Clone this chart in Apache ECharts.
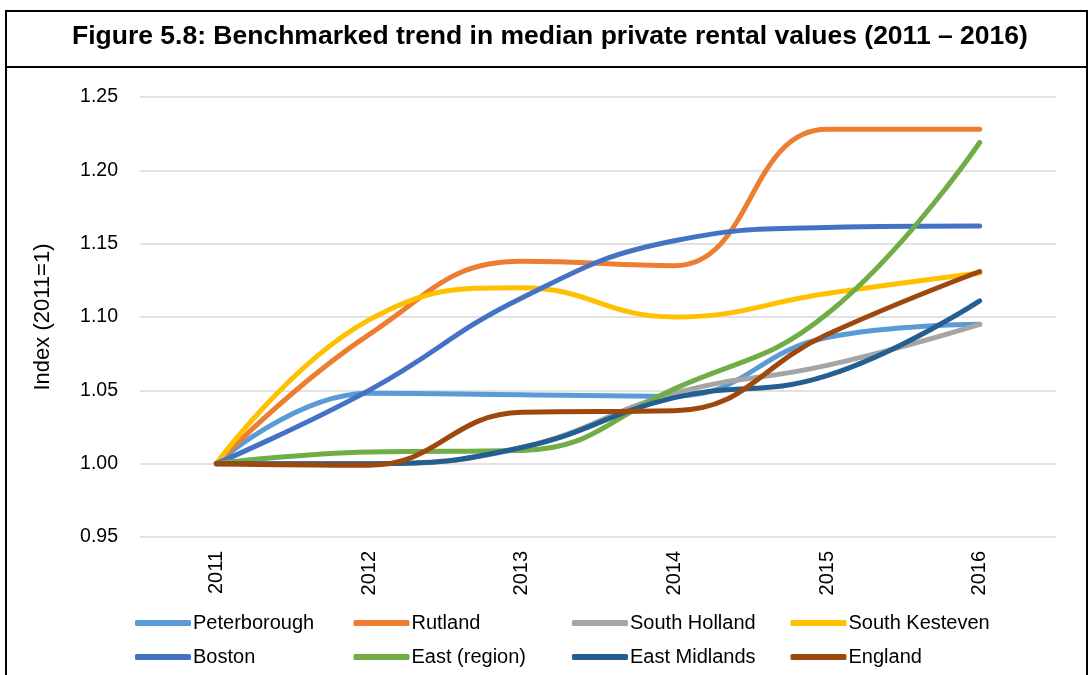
<!DOCTYPE html>
<html>
<head>
<meta charset="utf-8">
<title>Figure 5.8</title>
<script src="https://cdn.jsdelivr.net/npm/echarts@6/dist/echarts.min.js"></script>
<style>
  html, body { margin: 0; padding: 0; background: #fff; }
  #chart { width: 1088px; height: 675px; }
</style>
</head>
<body>
<div id="chart"></div>
<script>
// years on the x axis
var years = ["2011", "2012", "2013", "2014", "2015", "2016"];

// index values, 2011 = 1
var peterborough  = [1.000, 1.048, 1.047, 1.046, 1.086, 1.095];
var rutland       = [1.000, 1.088, 1.138, 1.135, 1.228, 1.228];
var southHolland  = [1.000, 1.000, 1.011, 1.048, 1.067, 1.095];
var southKesteven = [1.000, 1.098, 1.120, 1.100, 1.116, 1.130];
var boston        = [1.000, 1.050, 1.113, 1.152, 1.161, 1.162];
var eastRegion    = [1.000, 1.008, 1.009, 1.051, 1.102, 1.219];
var eastMidlands  = [1.000, 1.000, 1.011, 1.045, 1.060, 1.111];
var england       = [1.000, 0.999, 1.035, 1.036, 1.088, 1.131];

var names = ["Peterborough", "Rutland", "South Holland", "South Kesteven",
             "Boston", "East (region)", "East Midlands", "England"];
var values = [peterborough, rutland, southHolland, southKesteven,
              boston, eastRegion, eastMidlands, england];
var colors = ["#5B9BD5", "#ED7D31", "#A5A5A5", "#FFC000",
              "#4472C4", "#70AD47", "#255E91", "#9E480E"];

var font = "'Liberation Sans', Arial, sans-serif";

var chart = echarts.init(document.getElementById("chart"));

var series = names.map(function (n, i) {
  return {
    name: n,
    type: "line",
    data: values[i],
    smooth: 0.45,
    symbol: "none",
    lineStyle: { width: 5, color: colors[i], cap: "round" },
    itemStyle: { color: colors[i] }
  };
});

// legend: 4 columns of 2 rows
var legends = [];
for (var c = 0; c < 4; c++) {
  legends.push({
    orient: "vertical",
    left: 135 + 218.5 * c,
    top: 611,
    padding: 0,
    itemGap: 10,
    itemWidth: 56,
    itemHeight: 6,
    icon: "roundRect",
    data: [names[c], names[c + 4]],
    textStyle: { fontFamily: font, fontSize: 20, color: "#000", lineHeight: 24, padding: [0, 0, 0, -3] }
  });
}

chart.setOption({
  animation: false,
  color: colors,
  title: {
    text: "Figure 5.8: Benchmarked trend in median private rental values (2011 – 2016)",
    left: 72,
    top: 23,
    padding: 0,
    textStyle: { fontFamily: font, fontSize: 26.5, fontWeight: "bold", color: "#000" }
  },
  legend: legends,
  grid: { left: 140, right: 32, top: 97, bottom: 138, containLabel: false },
  xAxis: {
    type: "category",
    data: years,
    boundaryGap: true,
    axisLine: { show: false },
    axisTick: { show: false },
    axisLabel: { rotate: 90, margin: 14, fontFamily: font, fontSize: 20, color: "#000" }
  },
  yAxis: {
    type: "value",
    min: 0.95,
    max: 1.25,
    interval: 0.05,
    name: "Index (2011=1)",
    nameLocation: "middle",
    nameGap: 86,
    nameTextStyle: { fontFamily: font, fontSize: 22, color: "#000" },
    axisLine: { show: false },
    axisTick: { show: false },
    axisLabel: {
      margin: 22,
      fontFamily: font, fontSize: 19.5, color: "#000",
      formatter: function (v) { return v.toFixed(2); }
    },
    splitLine: { lineStyle: { color: "#D9D9D9", width: 1.5 } }
  },
  graphic: [
    { type: "rect", shape: { x: 6, y: 11, width: 1081, height: 700 },
      style: { fill: null, stroke: "#000", lineWidth: 2 }, silent: true },
    { type: "line", shape: { x1: 6, y1: 67, x2: 1087, y2: 67 },
      style: { stroke: "#000", lineWidth: 2 }, silent: true }
  ],
  series: series
});
</script>
</body>
</html>
